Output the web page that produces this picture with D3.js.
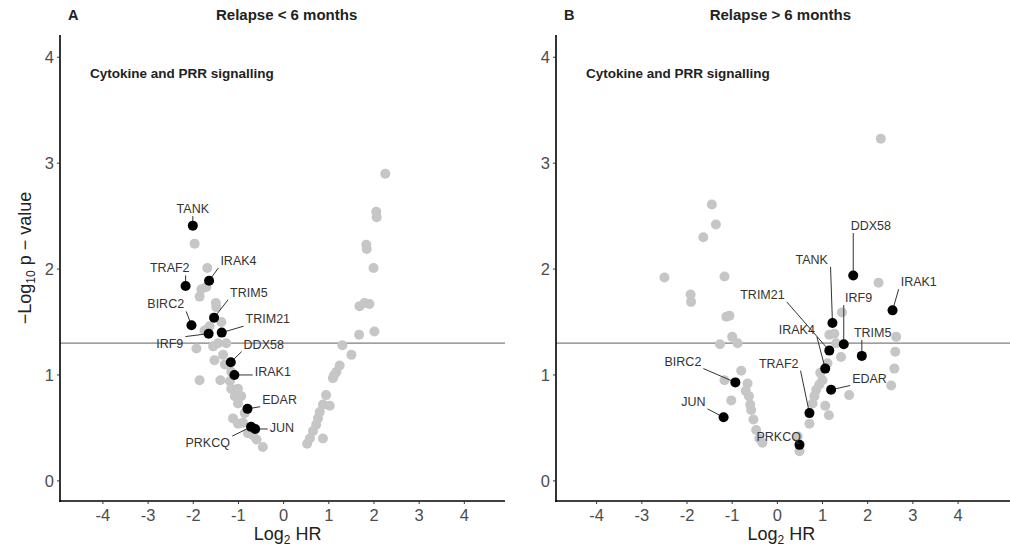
<!DOCTYPE html>
<html>
<head>
<meta charset="UTF-8" />
<title>Volcano - cytokine and PRR signalling</title>
<script src="https://d3js.org/d3.v7.min.js"></script>
<style>
  body { margin: 0; background: #fff; }
  text { font-family: "Liberation Sans", Arial, sans-serif; }
</style>
</head>
<body>
<div id="main"></div>
<script type="text/javascript">

// ---- data ----
var xTicks = [-4, -3, -2, -1, 0, 1, 2, 3, 4];
var yTicks = [0, 1, 2, 3, 4];
var sigLine = -Math.log10(0.05);

// panel A: relapse < 6 months
var genesA  = ["TANK", "TRAF2", "IRAK4", "TRIM5", "BIRC2", "TRIM21", "IRF9", "DDX58", "IRAK1", "EDAR", "JUN", "PRKCQ"];
var hrA     = [-2.01, -2.17, -1.65, -1.54, -2.04, -1.37, -1.66, -1.17, -1.09, -0.80, -0.63, -0.72];
var pA      = [2.41, 1.84, 1.89, 1.54, 1.47, 1.40, 1.39, 1.12, 1.00, 0.68, 0.49, 0.51];
var labXA   = [-2.01, -2.52, -1.00, -0.77, -2.61, -0.35, -2.52, -0.44, -0.24, -0.09, -0.04, -1.68];
var labYA   = [2.57, 2.01, 2.08, 1.78, 1.67, 1.53, 1.30, 1.29, 1.03, 0.77, 0.50, 0.36];

var otherHrA = [2.25, 2.05, 2.06, 1.83, 1.84, 1.99, 1.68, 1.79, 1.90, 2.01, 1.67, 1.30, 1.50, 1.24, 1.17, 1.09, 0.94, 0.87, 1.02, 0.76, 0.72, 0.65, 0.58, 0.52, 0.87, 1.12, 0.80,
                -1.97, -1.69, -1.82, -1.86, -1.71, -1.50, -1.38, -1.64, -1.93, -1.56, -1.45, -1.27, -1.53, -1.34, -1.86, -1.40, -1.19, -1.16, -1.01, -1.08, -0.94, -1.01, -0.86, -1.12, -1.01, -0.79, -0.68, -0.60, -0.46, -1.16, -1.49, -1.75, -1.30, -0.90];
var otherPA  = [2.90, 2.54, 2.49, 2.23, 2.19, 2.01, 1.65, 1.68, 1.67, 1.41, 1.38, 1.28, 1.19, 1.09, 1.03, 0.97, 0.81, 0.72, 0.71, 0.59, 0.53, 0.47, 0.40, 0.35, 0.40, 1.00, 0.65,
                2.24, 2.01, 1.81, 1.74, 1.83, 1.68, 1.50, 1.46, 1.25, 1.27, 1.30, 1.30, 1.14, 1.19, 0.95, 0.95, 0.94, 0.87, 0.87, 0.80, 0.80, 0.73, 0.64, 0.59, 0.54, 0.45, 0.43, 0.39, 0.32, 1.03, 1.64, 1.42, 1.10, 0.55];

// panel B: relapse > 6 months
var genesB  = ["DDX58", "IRAK1", "TANK", "IRF9", "TRIM21", "IRAK4", "TRIM5", "EDAR", "TRAF2", "PRKCQ", "BIRC2", "JUN"];
var hrB     = [1.68, 2.55, 1.22, 1.47, 1.15, 1.06, 1.87, 1.19, 0.71, 0.49, -0.93, -1.19];
var pB      = [1.94, 1.61, 1.49, 1.29, 1.23, 1.06, 1.18, 0.86, 0.64, 0.34, 0.93, 0.60];
var labXB   = [2.07, 3.13, 0.76, 1.80, -0.33, 0.43, 2.11, 2.04, 0.03, 0.03, -2.09, -1.86];
var labYB   = [2.41, 1.88, 2.09, 1.73, 1.76, 1.43, 1.40, 0.97, 1.11, 0.42, 1.13, 0.75];

var otherHrB = [2.29, -1.45, -1.36, -1.64, -2.50, -1.17, -1.92, -1.91, 2.24, -1.13, -1.06, -1.00, -0.88, -1.27, -0.80, -1.17, -0.66, -1.02, -0.63, -0.58, -0.53, -0.47, -0.40, -0.33,
                1.43, 1.15, 1.26, 1.41, 1.11, 1.00, 0.93, 0.86, 0.82, 0.78, 1.06, 1.14, 1.59, 0.71, 0.49, 0.45, 2.63, 2.61, 2.59, 2.52, -0.70, -0.60, 0.95, 1.30];
var otherPB  = [3.23, 2.61, 2.42, 2.30, 1.92, 1.93, 1.76, 1.69, 1.87, 1.55, 1.56, 1.36, 1.30, 1.29, 1.04, 0.95, 0.92, 0.76, 0.80, 0.67, 0.58, 0.48, 0.40, 0.36,
                1.59, 1.38, 1.39, 1.17, 1.11, 0.95, 0.91, 0.86, 0.80, 0.73, 0.71, 0.62, 0.81, 0.54, 0.28, 0.42, 1.36, 1.22, 1.06, 0.90, 0.85, 0.72, 1.02, 1.30];

var width = 1010
var height = 549

var svg = d3.select("#main").append("svg")
    .attr("width", width)
    .attr("height", height);

var panels = [
  { letter: "A", title: "Relapse < 6 months", xr: [60, 505], xd: [-4.95, 4.9], ylab: true,
    genes: genesA, hr: hrA, p: pA, lx: labXA, ly: labYA, ohr: otherHrA, op: otherPA },
  { letter: "B", title: "Relapse > 6 months", xr: [556, 1010], xd: [-4.9, 5.15], ylab: false,
    genes: genesB, hr: hrB, p: pB, lx: labXB, ly: labYB, ohr: otherHrB, op: otherPB }
];

var y = d3.scaleLinear().domain([-0.19, 4.21]).range([501, 35]);

panels.forEach(function(pn) {
  var x = d3.scaleLinear().domain(pn.xd).range(pn.xr);
  var g = svg.append("g");
  var x0 = pn.xr[0];

  // threshold line p = 0.05
  g.append("line")
    .attr("x1", pn.xr[0]).attr("x2", pn.xr[1])
    .attr("y1", y(sigLine)).attr("y2", y(sigLine))
    .attr("stroke", "#7f7f7f").attr("stroke-width", 1.4);

  // grey background genes
  g.append("g").selectAll("circle")
    .data(d3.range(pn.ohr.length))
    .enter().append("circle")
    .attr("cx", function(i) { return x(pn.ohr[i]); })
    .attr("cy", function(i) { return y(pn.op[i]); })
    .attr("r", 5)
    .attr("fill", "#c6c6c6");

  // labels first (so we can measure), then segments, then black points
  var segG = g.append("g");
  var dotG = g.append("g");
  var labG = g.append("g");

  pn.genes.forEach(function(name, i) {
    var px = x(pn.hr[i]), py = y(pn.p[i]);
    var t = labG.append("text")
      .attr("x", x(pn.lx[i])).attr("y", y(pn.ly[i]))
      .attr("dy", "0.35em")
      .attr("text-anchor", "middle")
      .attr("font-size", 12.5)
      .attr("fill", "#333")
      .text(name);
    var bb = t.node().getBBox();
    var pad = 2;
    var bx0 = bb.x - pad, bx1 = bb.x + bb.width + pad, by0 = bb.y, by1 = bb.y + bb.height;
    var cx = Math.max(bx0, Math.min(px, bx1));
    var cy = Math.max(by0, Math.min(py, by1));
    var len = Math.hypot(px - cx, py - cy);
    if (len > 6) {
      segG.append("line")
        .attr("x1", cx).attr("y1", cy)
        .attr("x2", px).attr("y2", py)
        .attr("stroke", "#333").attr("stroke-width", 1);
    }
    dotG.append("circle")
      .attr("cx", px).attr("cy", py).attr("r", 5)
      .attr("fill", "#000");
  });

  // axes
  g.append("line")
    .attr("x1", x0).attr("x2", x0).attr("y1", 35).attr("y2", 502)
    .attr("stroke", "#000").attr("stroke-width", 1.6);
  g.append("line")
    .attr("x1", x0 - 0.8).attr("x2", pn.xr[1]).attr("y1", 501).attr("y2", 501)
    .attr("stroke", "#000").attr("stroke-width", 1.6);

  g.selectAll(".yt").data(yTicks).enter().append("line")
    .attr("x1", x0 - 3).attr("x2", x0).attr("y1", function(d) { return y(d); }).attr("y2", function(d) { return y(d); })
    .attr("stroke", "#333").attr("stroke-width", 1);
  g.selectAll(".ytl").data(yTicks).enter().append("text")
    .attr("x", x0 - 6).attr("y", function(d) { return y(d); })
    .attr("dy", "0.36em").attr("text-anchor", "end")
    .attr("font-size", 16.5).attr("fill", "#4d4d4d")
    .text(function(d) { return d; });

  g.selectAll(".xt").data(xTicks).enter().append("line")
    .attr("x1", function(d) { return x(d); }).attr("x2", function(d) { return x(d); })
    .attr("y1", 501).attr("y2", 504)
    .attr("stroke", "#333").attr("stroke-width", 1);
  g.selectAll(".xtl").data(xTicks).enter().append("text")
    .attr("x", function(d) { return x(d); }).attr("y", 521)
    .attr("text-anchor", "middle")
    .attr("font-size", 16.5).attr("fill", "#4d4d4d")
    .text(function(d) { return d; });

  // x title
  var xt = g.append("text")
    .attr("x", x(0) + 4).attr("y", 540)
    .attr("text-anchor", "middle").attr("font-size", 18).attr("fill", "#222");
  xt.append("tspan").text("Log");
  xt.append("tspan").attr("font-size", 12).attr("dy", 4).text("2");
  xt.append("tspan").attr("dy", -4).text(" HR");

  if (pn.ylab) {
    var yt = g.append("text")
      .attr("transform", "translate(31," + 258 + ") rotate(-90)")
      .attr("text-anchor", "middle").attr("font-size", 18).attr("fill", "#222");
    yt.append("tspan").text("\u2212Log");
    yt.append("tspan").attr("font-size", 12).attr("dy", 4).text("10");
    yt.append("tspan").attr("dy", -4).text(" p \u2212 value");
  }

  // titles
  g.append("text")
    .attr("x", x0 + 8).attr("y", 20)
    .attr("font-size", 14.5).attr("font-weight", "bold").attr("fill", "#222")
    .text(pn.letter);
  g.append("text")
    .attr("x", x(0) + 3).attr("y", 20)
    .attr("text-anchor", "middle")
    .attr("font-size", 15).attr("font-weight", "bold").attr("fill", "#222")
    .text(pn.title);
  g.append("text")
    .attr("x", x0 + 30).attr("y", 78)
    .attr("font-size", 13.5).attr("font-weight", "bold").attr("fill", "#222")
    .text("Cytokine and PRR signalling");
});

</script>
</body>
</html>
